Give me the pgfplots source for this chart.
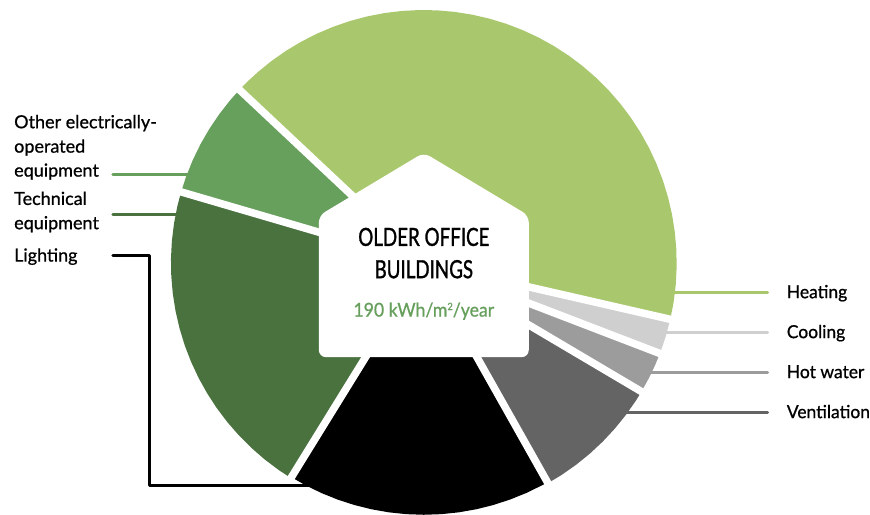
\documentclass[border=0pt]{standalone}
\usepackage{pgfplots}
\pgfplotsset{compat=1.18}
\usepackage{fontspec}
\setmainfont[FakeStretch=0.97,FakeBold=0.8]{Lato}
\newfontfamily\leftfont[FakeStretch=1.0,FakeBold=0.8]{Lato}
\newfontfamily\titlefont[FakeStretch=0.75,FakeBold=1.2]{Lato}
\newfontfamily\unitfont[FakeStretch=0.93,FakeBold=0.8]{Lato}
\definecolor{cheat}{HTML}{A9C86E}
\definecolor{cother}{HTML}{679F5C}
\definecolor{ctech}{HTML}{4A723F}
\definecolor{cvent}{HTML}{646464}
\definecolor{chot}{HTML}{9C9C9C}
\definecolor{ccool}{HTML}{CFCFCF}
\begin{document}
\begin{tikzpicture}
\begin{axis}[
  x=1pt,y=1pt,xmin=-424,xmax=446,ymin=-252,ymax=263,
  scale only axis,hide axis,clip=false,
  every axis plot/.append style={line join=round},
]
\path (axis cs:-424,-252) rectangle (axis cs:446,263);
% leader lines
\addplot[cheat,line width=3pt,line cap=round] coordinates {(230,-29.3)(344,-29.3)};
\addplot[ccool,line width=3pt,line cap=round] coordinates {(230,-69.3)(344,-69.3)};
\addplot[chot,line width=3pt,line cap=round] coordinates {(210,-109.5)(344,-109.5)};
\addplot[cvent,line width=3pt,line cap=round] coordinates {(190,-149.7)(344,-149.7)};
\addplot[cother,line width=3pt,line cap=round] coordinates {(-311,88.7)(-225,88.7)};
\addplot[ctech,line width=3pt,line cap=round] coordinates {(-311,48.7)(-235,48.7)};
\addplot[black,line width=3pt,line cap=round,line join=round] coordinates {(-311,7.7)(-274,7.7)(-274,-223)(-100,-223)};
% slices: (angle, radius)
\addplot[data cs=polar,fill=cheat,draw=none] coordinates {(0,0)(-12.9,253)(-9,253)(-5,253)(-1,253)(3,253)(7,253)(11,253)(15,253)(19,253)(23,253)(27,253)(31,253)(35,253)(39,253)(43,253)(47,253)(51,253)(55,253)(59,253)(63,253)(67,253)(71,253)(75,253)(79,253)(83,253)(87,253)(91,253)(95,253)(99,253)(103,253)(107,253)(111,253)(115,253)(119,253)(123,253)(127,253)(131,253)(134,253)(136.8,253)} --cycle;
\addplot[data cs=polar,fill=ccool,draw=none] coordinates {(0,0)(-21,253)(-17,253)(-12.9,253)} --cycle;
\addplot[data cs=polar,fill=chot,draw=none] coordinates {(0,0)(-30.6,253)(-27,253)(-24,253)(-21,253)} --cycle;
\addplot[data cs=polar,fill=cvent,draw=none] coordinates {(0,0)(-60.6,253)(-57,253)(-53,253)(-49,253)(-45,253)(-41,253)(-37,253)(-33,253)(-30.6,253)} --cycle;
\addplot[data cs=polar,fill=black,draw=none] coordinates {(0,0)(-121.7,252)(-118,252)(-114,252)(-110,252)(-106,252)(-102,252)(-98,252)(-94,252)(-90,252)(-86,252)(-82,252)(-78,252)(-74,252)(-70,252)(-66,252)(-62,252)(-60.6,252)} --cycle;
\addplot[data cs=polar,fill=ctech,draw=none] coordinates {(0,0)(163.7,253)(167,253)(171,253)(175,253)(179,253)(183,253)(187,253)(191,253)(195,253)(199,253)(203,253)(207,253)(211,253)(215,253)(219,253)(223,253)(227,253)(231,253)(235,253)(238.3,253)} --cycle;
\addplot[data cs=polar,fill=cother,draw=none] coordinates {(0,0)(136.8,253)(140,253)(144,253)(148,253)(152,253)(156,253)(160,253)(163.7,253)} --cycle;
% gaps between slices
\addplot[data cs=polar,white,line width=7.5pt] coordinates {(-12.9,0)(-12.9,256)};
\addplot[data cs=polar,white,line width=7.5pt] coordinates {(-21,0)(-21,256)};
\addplot[data cs=polar,white,line width=7.5pt] coordinates {(-30.6,0)(-30.6,256)};
\addplot[data cs=polar,white,line width=7.5pt] coordinates {(-60.6,0)(-60.6,256)};
\addplot[data cs=polar,white,line width=7.5pt] coordinates {(-121.7,0)(-121.7,256)};
\addplot[data cs=polar,white,line width=7.5pt] coordinates {(163.7,0)(163.7,256)};
\addplot[data cs=polar,white,line width=7.5pt] coordinates {(136.8,0)(136.8,256)};
% house
\fill[white,rounded corners=7pt] (axis cs:-105,-94.3) -- (axis cs:105,-94.3) -- (axis cs:105,47.3) -- (axis cs:0,110.3) -- (axis cs:-105,47.3) -- cycle;
% labels
\def\lab{\fontsize{18}{18}\selectfont}
\def\labl{\leftfont\fontsize{18}{18}\selectfont}
\node[anchor=base west,inner sep=0pt,font=\labl] at (axis cs:-410,134.7) {Other electrically-};
\node[anchor=base west,inner sep=0pt,font=\labl] at (axis cs:-410,110.3) {operated};
\node[anchor=base west,inner sep=0pt,font=\labl] at (axis cs:-410,86.3) {equipment};
\node[anchor=base west,inner sep=0pt,font=\labl] at (axis cs:-410,58) {Technical};
\node[anchor=base west,inner sep=0pt,font=\labl] at (axis cs:-410,33.7) {equipment};
\node[anchor=base west,inner sep=0pt,font=\labl] at (axis cs:-410,1.3) {Lighting};
\node[anchor=base west,inner sep=0pt,font=\lab] at (axis cs:363,-35.3) {Heating};
\node[anchor=base west,inner sep=0pt,font=\lab] at (axis cs:363,-75.3) {Cooling};
\node[anchor=base west,inner sep=0pt,font=\lab] at (axis cs:363,-115.3) {Hot water};
\node[anchor=base west,inner sep=0pt,font=\lab] at (axis cs:363,-155.3) {Ventilation};
\node[anchor=base,inner sep=0pt,font=\titlefont\fontsize{25}{25}\selectfont] at (axis cs:0,17) {OLDER OFFICE};
\node[anchor=base,inner sep=0pt,font=\titlefont\fontsize{25}{25}\selectfont] at (axis cs:0,-15.3) {BUILDINGS};
\node[anchor=base,inner sep=0pt,text=cother,font=\unitfont\fontsize{19}{19}\selectfont] at (axis cs:0,-53.7) {190 kWh/m\raisebox{6.5pt}{\fontsize{10}{10}\selectfont 2}/year};
\end{axis}
\end{tikzpicture}
\end{document}
